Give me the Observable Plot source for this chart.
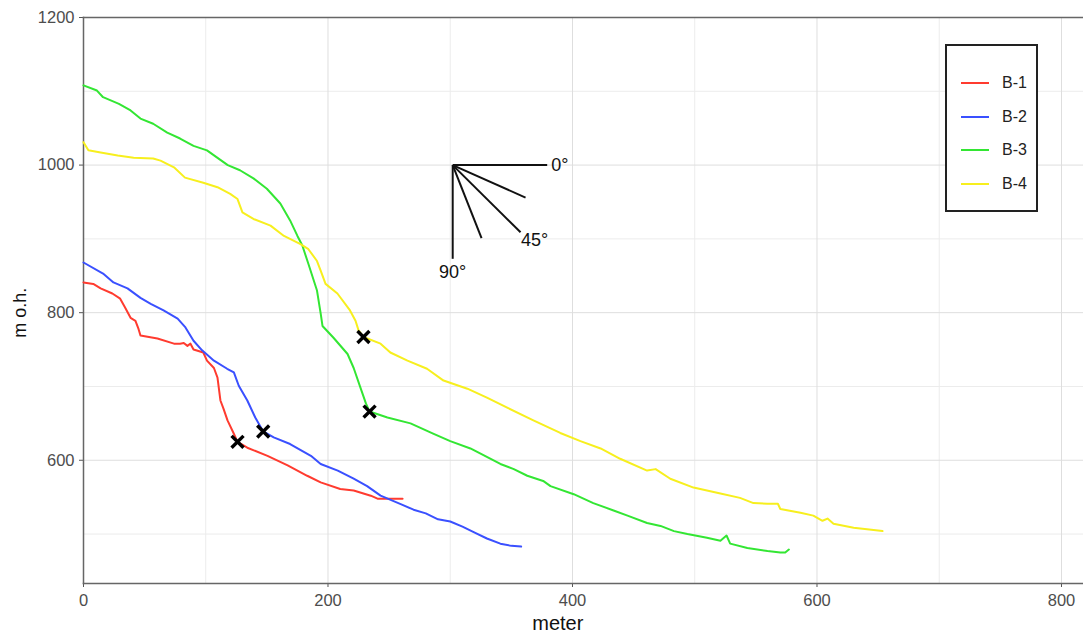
<!DOCTYPE html>
<html>
<head>
<meta charset="utf-8">
<script src="https://cdn.jsdelivr.net/npm/d3@7"></script>
<script src="https://cdn.jsdelivr.net/npm/@observablehq/plot@0.6"></script>
<style>
  body { margin: 0; background: #fff; font-family: "Liberation Sans", Arial, sans-serif; }
  #wrap { position: relative; width: 1083px; height: 635px; }
  #legend { position: absolute; left: 945px; top: 44px; width: 89px; height: 164px; border: 2px solid #222; background: #fff; box-sizing: content-box; }
  .li { position: absolute; left: 14px; height: 20px; display: flex; align-items: center; font-size: 16px; color: #222; }
  .li span.sw { display: inline-block; width: 28px; height: 2px; margin-right: 13px; }
</style>
</head>
<body>
<div id="wrap"></div>
<script>
const seriesNames = ["B-1", "B-2", "B-3", "B-4"];
const seriesColors = ["#ff3b2f", "#3a50ff", "#33e633", "#f7ef1e"];

const b1x = [0, 8, 14, 23.6, 30, 34, 38.5, 42.5, 45, 46.6, 60.5, 74, 79, 82, 85, 87.5, 90, 98, 101, 106.7, 109.6, 112, 114.5, 117.8, 122.7, 126, 134, 150.5, 167, 183, 194, 210, 221, 235, 240.5, 253.6, 261];
const b1y = [841, 839, 833, 826, 819, 807, 793, 789, 778, 769, 765, 758, 758, 759, 755, 758, 750, 746, 735, 725, 712, 681, 670, 654, 637, 625, 617, 606, 593, 579, 570, 561, 559, 552, 548, 548, 548];

const b2x = [0, 16, 24.5, 36, 46.6, 55, 65.5, 77, 83.4, 90, 97, 106.7, 117.5, 123, 127, 134, 140.5, 147, 155.6, 169, 186, 194, 208, 221, 232, 243, 259, 270, 280, 290, 300, 310, 320, 330, 341, 350, 358];
const b2y = [868, 853, 841, 833, 820, 812, 803, 792, 780, 762, 749, 735, 724, 719, 701, 681, 658, 639, 631, 622, 606, 595, 586, 575, 565, 552, 541, 533, 528, 520, 517, 510, 502, 494, 487, 484, 483];

const b3x = [0, 11, 16, 29, 38.5, 46.6, 57, 68.5, 79, 90, 101, 118, 128, 139, 150, 161, 169, 175, 179, 184, 191, 194, 195.5, 204.5, 216, 221, 226.6, 231, 234, 248.6, 267.5, 286, 300, 316.5, 341, 352, 363, 376, 382, 401, 417, 433.6, 445, 461, 472, 483, 494, 510, 521, 526, 529, 543, 559.5, 570, 574, 577];
const b3y = [1108, 1101, 1092, 1083, 1074, 1063, 1056, 1044, 1036, 1026, 1020, 1000, 993, 982, 968, 948, 925, 904, 891, 866, 830, 799, 782, 766, 744, 725, 698, 677, 666, 658, 650, 636, 626, 616, 595, 588, 579, 572, 565, 554, 542, 532, 525, 515, 511, 504, 500, 495, 491, 498, 487, 481, 477, 475, 475, 479];

const b4x = [0, 4, 14, 28, 41, 57, 63, 74, 83, 98, 109.6, 120, 126, 130, 139, 153, 164, 177.5, 184, 191, 194, 198, 207.7, 218, 222.5, 225, 229, 243, 251, 265, 281, 294.5, 314, 330, 347, 368, 390, 406.5, 423, 439, 461, 468, 480, 499, 521, 537, 548, 559.5, 568, 570, 586.5, 597, 604.5, 608.6, 613.5, 630, 653.6];
const b4y = [1031, 1020, 1017, 1013, 1010, 1009, 1006, 997, 983, 976, 970, 961, 954, 936, 927, 918, 904, 893, 886, 870, 857, 839, 826, 803, 789, 776, 767, 758, 746, 735, 724, 708, 697, 685, 671, 654, 637, 626, 616, 602, 586, 588, 575, 563, 555, 549, 542, 541, 541, 534, 529, 525, 518, 521, 514, 508.5, 504];

const markerX = [126, 147, 234, 229];
const markerY = [625, 639, 666, 767];

const compassOrigin = [302, 1000];
const compassEndX = [379.3, 361.6, 357.5, 325.6, 302];
const compassEndY = [1000, 956, 909, 901, 873];
const compassLabels = ["0°", "", "45°", "", "90°"];

const xTicks = [0, 200, 400, 600, 800];
const xMinor = [100, 300, 500, 700];
const yTicks = [600, 800, 1000, 1200];
const yMinor = [500, 700, 900, 1100];

const allX = [b1x, b2x, b3x, b4x];
const allY = [b1y, b2y, b3y, b4y];
const lines = [];
seriesNames.forEach((s, i) => allX[i].forEach((x, j) => lines.push({series: s, x, y: allY[i][j]})));
const markers = markerX.map((x, i) => ({x, y: markerY[i]}));
const compass = compassEndX.map((x, i) => ({x1: compassOrigin[0], y1: compassOrigin[1], x2: x, y2: compassEndY[i], label: compassLabels[i]}));

const chart = Plot.plot({
  width: 1083,
  height: 635,
  marginLeft: 83,
  marginRight: 0,
  marginTop: 17,
  marginBottom: 52,
  style: {fontFamily: "'Liberation Sans', Arial, sans-serif", background: "#fff"},
  x: {domain: [0, 818]},
  y: {domain: [433, 1200]},
  color: {domain: seriesNames, range: seriesColors},
  marks: [
    Plot.gridX(xMinor, {stroke: "#ececec", strokeOpacity: 1, strokeWidth: 1}),
    Plot.gridY(yMinor, {stroke: "#ececec", strokeOpacity: 1, strokeWidth: 1}),
    Plot.gridX(xTicks, {stroke: "#dedede", strokeOpacity: 1, strokeWidth: 1}),
    Plot.gridY(yTicks, {stroke: "#dedede", strokeOpacity: 1, strokeWidth: 1}),
    Plot.axisX(xTicks, {tickSize: 4, tickPadding: 7, fontSize: 16.5, color: "#4d4d4d", stroke: "#555", label: null, tickFormat: d => String(d)}),
    Plot.axisY(yTicks, {tickSize: 4, tickPadding: 5, fontSize: 16.5, color: "#4d4d4d", stroke: "#555", label: null, tickFormat: d => String(d)}),
    Plot.frame({anchor: "left", stroke: "#666", strokeWidth: 1.5}),
    Plot.frame({anchor: "bottom", stroke: "#666", strokeWidth: 1.5}),
    Plot.frame({anchor: "top", stroke: "#666", strokeWidth: 1.5}),
    Plot.line(lines, {x: "x", y: "y", z: "series", stroke: "series", strokeWidth: 2}),
    Plot.link(compass, {x1: "x1", y1: "y1", x2: "x2", y2: "y2", stroke: "#111", strokeWidth: 2}),
    Plot.text(compass.filter(d => d.label === "0°"), {x: "x2", y: "y2", text: "label", textAnchor: "start", dx: 4, fontSize: 18, fill: "#111"}),
    Plot.text(compass.filter(d => d.label === "45°"), {x: "x2", y: "y2", text: "label", textAnchor: "middle", dx: 14, dy: 8, fontSize: 18, fill: "#111"}),
    Plot.text(compass.filter(d => d.label === "90°"), {x: "x2", y: "y2", text: "label", textAnchor: "middle", dy: 13, fontSize: 18, fill: "#111"}),
    Plot.dot(markers, {x: "x", y: "y", symbol: "times", r: 5.5, stroke: "#000", strokeWidth: 3.4}),
    Plot.text(["meter"], {frameAnchor: "bottom", x: [388], text: d => d, dy: 46, fontSize: 20, fill: "#111"}),
    Plot.text(["m o.h."], {frameAnchor: "left", y: [800], text: d => d, textAnchor: "middle", dx: -63, rotate: -90, fontSize: 18, fill: "#111"})
  ]
});
const wrap = document.getElementById("wrap");
wrap.appendChild(chart);

const legend = document.createElement("div");
legend.id = "legend";
seriesNames.forEach((s, i) => {
  const row = document.createElement("div");
  row.className = "li";
  row.style.top = (27 + i * 33.5) + "px";
  const sw = document.createElement("span");
  sw.className = "sw";
  sw.style.background = seriesColors[i];
  row.appendChild(sw);
  row.appendChild(document.createTextNode(s));
  legend.appendChild(row);
});
wrap.appendChild(legend);
</script>
</body>
</html>
